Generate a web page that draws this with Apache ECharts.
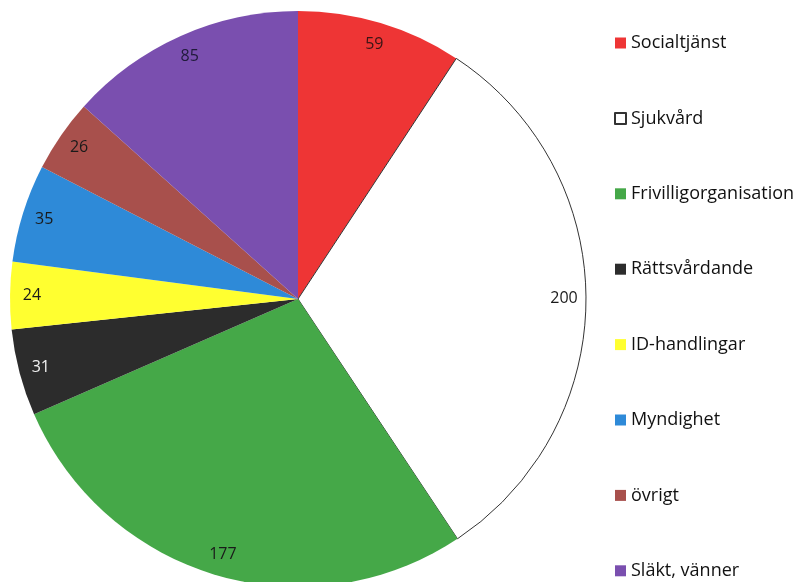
<!DOCTYPE html>
<html>
<head>
<meta charset="utf-8">
<script src="https://cdn.jsdelivr.net/npm/echarts@6/dist/echarts.min.js"></script>
<style>html,body{margin:0;padding:0;background:#fff}#c{width:809px;height:582px}</style>
</head>
<body>
<div id="c"></div>
<script>
const categories = ["Socialtjänst","Sjukvård","Frivilligorganisation","Rättsvårdande","ID-handlingar","Myndighet","övrigt","Släkt, vänner"];
const values = [59, 200, 177, 31, 24, 35, 26, 85];
const colors = ["#EE3535","#FFFFFF","#45A848","#2C2C2C","#FFFF30","#2E8AD8","#A8504C","#7A4FAF"];
const labelColors = ["#3a1515","#1a1a1a","#1a1a1a","#F2F2F2","#1a1a1a","#1a1a1a","#1a1a1a","#1f1a3a"];

const chart = echarts.init(document.getElementById('c'), null, {renderer:'canvas'});
const mainData = categories.map((n,i)=>({
  name:n, value:values[i],
  itemStyle: i===1 ? {color:colors[i], borderColor:'#333', borderWidth:1} : {color:colors[i]}
}));
const labelData = categories.map((n,i)=>({
  name:n, value:values[i],
  label:{color:labelColors[i]}
}));
chart.setOption({
  animation:false,
  legend:{
    orient:'vertical', left:614, top:34, padding:0,
    icon:'rect', itemWidth:11, itemHeight:11, itemGap:57.4,
    textStyle:{fontFamily:'Open Sans', fontSize:18, lineHeight:18, color:'#111'},
    data:categories
  },
  series:[
    {
      type:'pie', center:[298,299], radius:[0,288], startAngle:90, clockwise:true,
      label:{show:false}, labelLine:{show:false}, silent:true,
      data:mainData
    },
    {
      type:'pie', center:[298,299], radius:[238,288], startAngle:90, clockwise:true,
      itemStyle:{color:'rgba(0,0,0,0)'}, silent:true, legendHoverLink:false,
      label:{show:true, position:'inside', formatter:'{c}', fontFamily:'Open Sans', fontSize:16},
      labelLine:{show:false},
      data:labelData
    }
  ]
});
</script>
</body>
</html>
